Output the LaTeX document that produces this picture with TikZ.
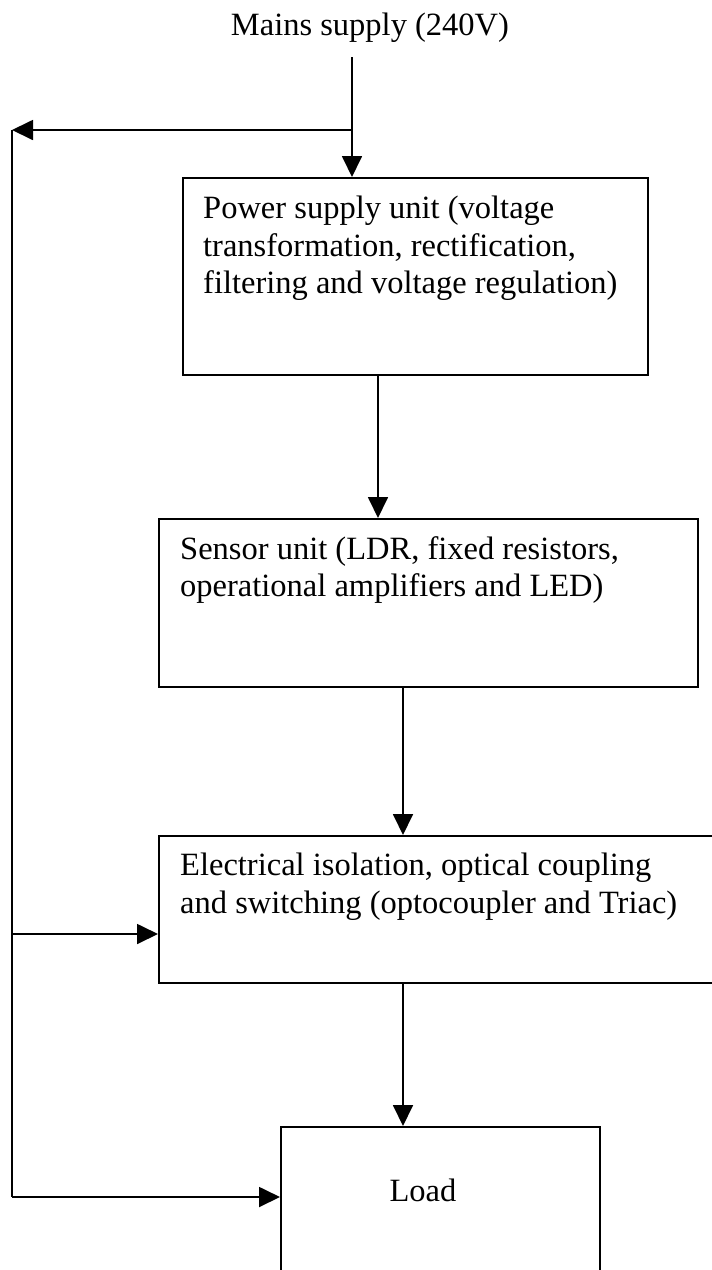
\documentclass[tikz,border=0pt]{standalone}
\usepackage{fontspec}
\setmainfont{Liberation Serif}
\usetikzlibrary{arrows.meta}
\begin{document}
\begin{tikzpicture}[x=1pt,y=-1pt,
  box/.style={draw, line width=1.8pt, inner sep=0pt, anchor=north west},
  lbl/.style={inner sep=0pt, font=\fontsize{32.5}{37.5}\selectfont, align=left},
  conn/.style={line width=1.8pt, -{Triangle[length=21pt,width=20pt]}},
  wire/.style={line width=1.8pt}]
\useasboundingbox (0,0) rectangle (712,1270);
\clip (0,0) rectangle (712,1270);
\fill[white] (0,0) rectangle (712,1270);
% boxes
\node[box, minimum width=465pt, minimum height=197pt] (psu) at (182,177) {};
\node[box, minimum width=539pt, minimum height=168pt] (sens) at (158,518) {};
\node[box, minimum width=600pt, minimum height=147pt] (iso) at (158,835) {};
\node[box, minimum width=319pt, minimum height=170pt] (load) at (280,1126) {};
% texts
\node[lbl, anchor=base] (mains) at (370,35) {Mains supply (240V)};
\node[lbl, anchor=north west] (psut) at (203,196) {Power supply unit (voltage\\transformation, rectification,\\filtering and voltage regulation)};
\node[lbl, anchor=north west] (senst) at (180,536) {Sensor unit (LDR, fixed resistors,\\operational amplifiers and LED)};
\node[lbl, anchor=north west] (isot) at (180,853) {Electrical isolation, optical coupling\\and switching (optocoupler and Triac)};
\node[lbl, anchor=base] (loadt) at (423,1201) {Load};
% connector points
\coordinate (mtop) at (352,57);
\coordinate (split) at (352,130);
\coordinate (left) at (12,130);
\coordinate (lmid) at (12,934);
\coordinate (lbot) at (12,1197);
\coordinate (c1) at (378,0);
\coordinate (c2) at (403,0);
% connectors
\draw[conn] (mtop) -- (split |- psu.north);
\draw[conn] (split) -- (left);
\draw[wire] (left) -- (lbot);
\draw[conn] (lmid) -- (lmid -| iso.west);
\draw[conn] (lbot) -- (lbot -| load.west);
\draw[conn] (c1 |- psu.south) -- (c1 |- sens.north);
\draw[conn] (c2 |- sens.south) -- (c2 |- iso.north);
\draw[conn] (c2 |- iso.south) -- (c2 |- load.north);
\end{tikzpicture}
\end{document}
